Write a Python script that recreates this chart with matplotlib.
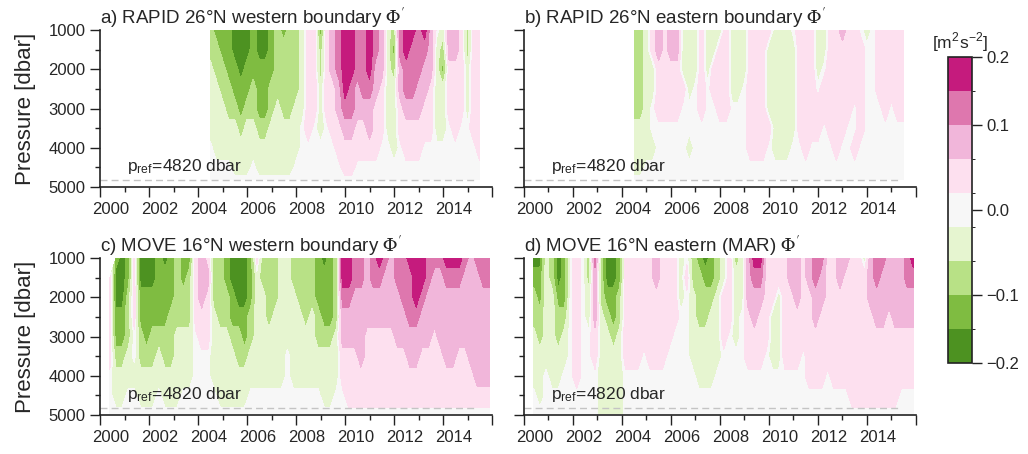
import numpy as np
import matplotlib
matplotlib.use('Agg')
import matplotlib.pyplot as plt
import matplotlib.transforms as mtransforms
from matplotlib.colors import ListedColormap, BoundaryNorm
from matplotlib.ticker import MultipleLocator, FixedLocator

plt.rcParams['font.family'] = ['Liberation Sans', 'DejaVu Sans']
plt.rcParams['mathtext.fontset'] = 'stix'

# contour classes, one string per time column,
# characters from 1000 dbar (left) down to the deepest level (right)
CLASS_VALUE = {'d': -0.175, 'c': -0.125, 'b': -0.075, 'a': -0.03, '0': 0.0,
               '1': 0.03, '2': 0.075, '3': 0.125, '4': 0.175, '.': np.nan}

levels = [-0.2, -0.15, -0.1, -0.05, -0.01, 0.01, 0.05, 0.1, 0.15, 0.2]
colors = ['#4d9221', '#7fbc41', '#b8e186', '#e6f5d0', '#f7f7f7',
          '#fde0ef', '#f1b6da', '#de77ae', '#c51b7d']

p_rapid = [1000, 1500, 2000, 2500, 3000, 3500, 4000, 4500, 4820]
p_move = [1000, 1500, 2000, 2500, 3000, 3500, 4000, 4500, 4950]
t_rapid = np.arange(2004.5, 2015.51, 0.25)
t_move = np.arange(2000.4, 2015.91, 0.25)

rapid_west = [
    "bbaaaa000", "cbbaaaa00", "ccbbaaa00", "cccbbaa00", "ddccbaaa0",
    "dddccbaa0", "ddccbaaa0", "cccbbaa00", "ddcccbaa0", "ddcccbaa0",
    "cccbbaaa0", "bbbbaaaa0", "cbbbbaaa0", "bbbbbaaa0", "bbbbaaa00",
    "aaaaa0000", "111111000", "111110000", "cbbaaa000", "111110000",
    "222111000", "333221100", "444432110", "444332110", "333221100",
    "333321100", "444322100", "332211100", "222111000", "aaaaaa000",
    "bcbaaaa00", "332211000", "443321100", "433321100", "333221100",
    "432211000", "222111000", "0aaaaa000", "abcaaa000", "221110000",
    "221111000", "111110000", "bbaaa0000", "111111000", "111111100",
]
rapid_east = [
    "bbbbbaaa0", "bbbbbaaa0", "aaaaaaa00", "11aa00a00", "221110000",
    "111110000", "221110000", "221110000", "aaa100000", "aaaa00a00",
    "aaa000000", "111110000", "aaa000000", "aa1100000", "a11110000",
    "111110000", "aaaa00000", "aaaa00000", "aaa000000", "111111100",
    "111111100", "111111100", "1aaaa1000", "aaaaaaa00", "aaaaaaa00",
    "aaaaaaa00", "0aaaaa000", "111111000", "111111100", "111111000",
    "aaa011000", "aa0110000", "111111000", "111111100", "211111000",
    "111110000", "111100100", "011111000", "a00000000", "000000000",
    "111100000", "111110000", "111100000", "111110000", "111110000",
]
move_west = [
    ".11111000", "cddccbaa0", "dddccbaa0", "ccbbbaa00", "111100a00",
    "ddccbbaa0", "ddcccbaa0", "ddccbbaa0", "ccccbaa00", "dcccbbaa0",
    "cccbbbaa0", "bbbbaaaa0", "ccbbaaa00", "cbbbaaa00", "111100000",
    "222110000", "121110000", "bbbaaaa00", "bbbbaaaa0", "ccbbaaaa0",
    "ddccbaaa0", "dddcbbaa0", "dddccbaa0", "cccbbaa00", "1aaaaaa00",
    "bbaaaaa00", "bbbbaaa00", "bbbaaaa00", "aaaaaaa00", "aaaaa0000",
    "bbaaaaa00", "bbbaaaa00", "bbbbaaa00", "bbbaaaa00", "cccbbaa00",
    "dcccbaaa0", "ccccbaaa0", "bbbbaaa00", "443221100", "443221110",
    "332221110", "332222110", "222211110", "332211110", "432211110",
    "322211110", "222211110", "332221110", "333221110", "433322110",
    "444322110", "443221110", "332221110", "322211110", "322221110",
    "432222110", "432222110", "432221110", "322221110", "222222110",
    "322222210", "332222210", "332222210",
]
move_east = [
    "dcbbaaa00", "dccbbaaa0", "aaaaaa000", "bbaaaaa00", "ddcbbaa00",
    "cccbaa000", "000000000", "111111100", "000000000", "bbaa00000",
    "322211000", "bbbaaaaaa", "ddcbaaaaa", "ddccbaaaa", "ccbbaaaaa",
    "111111000", "111111000", "111111000", "111110000", "111111000",
    "221111000", "111111000", "111110000", "111100000", "aaa000000",
    "010000000", "bbaaaa000", "cbbbaaa00", "dcbbaaa00", "ccbaaaa00",
    "bbaaaa000", "aa1110000", "111100000", "baaaa0000", "aaa000000",
    "222111000", "432211000", "432111000", "111110000", "111aaa000",
    "11aaaa000", "111111000", "221111000", "222111000", "111110000",
    "221111100", "332211100", "322111100", "111111000", "111111100",
    "221111100", "211111100", "111111110", "111111110", "a11111110",
    "222111110", "332211110", "322211110", "222111110", "222211110",
    "222211100", "332211100", "432211100",
]

titles = [r'a) RAPID 26°N western boundary $\Phi^{\prime}$',
          r'b) RAPID 26°N eastern boundary $\Phi^{\prime}$',
          r'c) MOVE 16°N western boundary $\Phi^{\prime}$',
          r'd) MOVE 16°N eastern (MAR) $\Phi^{\prime}$']
panels = [(t_rapid, p_rapid, rapid_west), (t_rapid, p_rapid, rapid_east),
          (t_move, p_move, move_west), (t_move, p_move, move_east)]

cmap = ListedColormap(colors)
norm = BoundaryNorm(levels, cmap.N)
text_col = '#262626'

fig = plt.figure(figsize=(10.28, 4.54), dpi=100)
boxes = [[0.0973, 0.588, 0.3813, 0.3458], [0.5097, 0.588, 0.3813, 0.3458],
         [0.0973, 0.0859, 0.3813, 0.3458], [0.5097, 0.0859, 0.3813, 0.3458]]

for k, (box, (t, p, cols)) in enumerate(zip(boxes, panels)):
    ax = fig.add_axes(box)
    z = np.array([[CLASS_VALUE[ch] for ch in col] for col in cols]).T
    z = np.ma.masked_invalid(z)
    cf = ax.contourf(t, p, z, levels=levels, cmap=cmap, norm=norm)
    ax.plot([2000, 2015.3], [4820, 4820], ls='--', dashes=(5, 3),
            color='#c4c4c4', lw=1)
    ax.text(2001.1, 4720, r'p$_\mathregular{ref}$=4820 dbar', fontsize=12.5,
            color=text_col, va='bottom')
    ax.set_xlim(2000, 2016)
    ax.set_ylim(5000, 1000)
    ax.set_title(titles[k], loc='left', fontsize=13.5, color=text_col, pad=3)
    for s in ['top', 'right']:
        ax.spines[s].set_visible(False)
    for s in ['left', 'bottom']:
        ax.spines[s].set_linewidth(1.2)
        ax.spines[s].set_color('#222222')
    ax.xaxis.set_major_locator(FixedLocator(range(2000, 2017, 2)))
    ax.xaxis.set_minor_locator(MultipleLocator(1))
    ax.set_xticklabels([str(y) if y < 2016 else '' for y in range(2000, 2017, 2)])
    ax.yaxis.set_major_locator(FixedLocator([1000, 2000, 3000, 4000, 5000]))
    ax.yaxis.set_minor_locator(MultipleLocator(500))
    ax.tick_params(which='major', length=7, width=1, color='#222222',
                   labelsize=12, labelcolor=text_col)
    ax.tick_params(which='minor', length=3.6, width=1, color='#222222')
    if k % 2 == 0:
        ax.set_ylabel('Pressure [dbar]', fontsize=16, color=text_col, labelpad=9)
    else:
        ax.set_yticklabels([])
    shift = mtransforms.ScaledTranslation(11 / 100, 0, fig.dpi_scale_trans)
    for tick in ax.xaxis.get_major_ticks():
        tick.label1.set_transform(tick.label1.get_transform() + shift)

cax = fig.add_axes([0.9222, 0.2004, 0.0233, 0.674])
cb = fig.colorbar(cf, cax=cax, ticks=[-0.2, -0.1, 0.0, 0.1, 0.2])
cb.ax.set_yticklabels(['\u22120.2', '\u22120.1', '0.0', '0.1', '0.2'])
cb.outline.set_linewidth(1.2)
cb.outline.set_edgecolor('#222222')
cb.ax.tick_params(length=7, width=1, color='#222222', labelsize=12,
                  labelcolor=text_col)
cb.ax.set_title(r'[m$^\mathregular{2}$s$^\mathregular{-2}$]', fontsize=12.5,
                color=text_col, pad=6)

fig.savefig('out.png', dpi=100)
